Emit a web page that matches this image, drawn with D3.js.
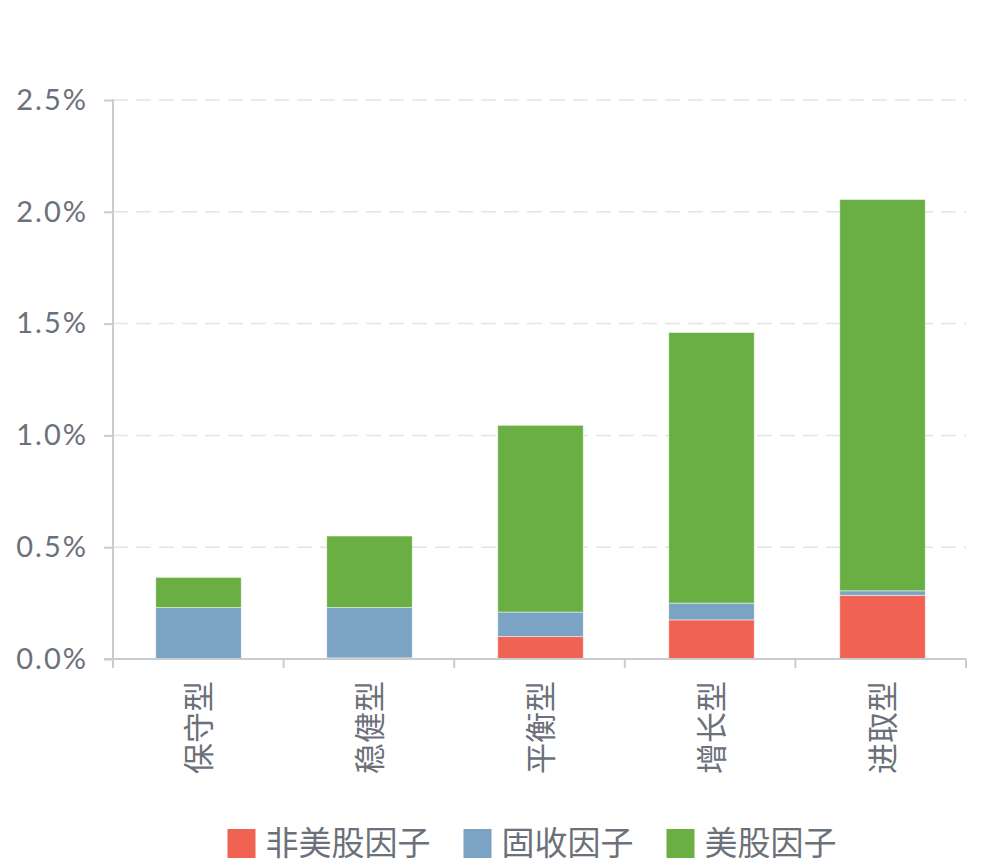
<!DOCTYPE html>
<html>
<head>
<meta charset="utf-8">
<script src="https://cdn.jsdelivr.net/npm/d3@7"></script>
<style>
  body { margin: 0; background: #fff; }
  text { font-family: "Lato", "Noto Sans CJK SC", sans-serif; fill: #6b7079; }
</style>
</head>
<body>
<div id="chart"></div>
<script>
// chart data
var categories = ["保守型", "稳健型", "平衡型", "增长型", "进取型"];
var seriesNames = ["非美股因子", "固收因子", "美股因子"];
var nonUsEquity = [0.000, 0.005, 0.100, 0.175, 0.285];
var fixedIncome = [0.230, 0.225, 0.110, 0.075, 0.020];
var usEquity    = [0.135, 0.320, 0.835, 1.210, 1.750];
var yTicks = [0, 0.5, 1.0, 1.5, 2.0, 2.5];
var colors = ["#f06352", "#7ba4c4", "#6aaf44"];

var width = 984, height = 867;
var margin = {top: 100, right: 18, bottom: 208, left: 113};

var svg = d3.select("#chart")
  .append("svg")
    .attr("width", width)
    .attr("height", height);

// build rows for the stack
var rows = categories.map(function(c, i) {
  return {cat: c, s0: nonUsEquity[i], s1: fixedIncome[i], s2: usEquity[i]};
});
var stack = d3.stack().keys(["s0", "s1", "s2"]);
var layers = stack(rows);

var x = d3.scaleBand()
  .domain(categories)
  .range([margin.left, width - margin.right + 2])
  .paddingInner(0.5)
  .paddingOuter(0.25);

var xOuter = d3.scaleBand()
  .domain(categories)
  .range([margin.left, width - margin.right]);

var y = d3.scaleLinear()
  .domain([0, 2.5])
  .range([height - margin.bottom, margin.top]);

// dashed gridlines
svg.append("g")
  .selectAll("line")
  .data(yTicks.filter(function(d) { return d > 0; }))
  .enter().append("line")
    .attr("x1", margin.left)
    .attr("x2", width - margin.right)
    .attr("y1", function(d) { return y(d); })
    .attr("y2", function(d) { return y(d); })
    .attr("stroke", "#e4e4e4")
    .attr("stroke-width", 1.5)
    .attr("stroke-dasharray", "15,8");

// bars
svg.append("g")
  .selectAll("g")
  .data(layers)
  .enter().append("g")
    .attr("fill", function(d, i) { return colors[i]; })
  .selectAll("rect")
  .data(function(d) { return d; })
  .enter().append("rect")
    .attr("x", function(d) { return x(d.data.cat); })
    .attr("width", x.bandwidth())
    .attr("y", function(d) { return y(d[1]); })
    .attr("height", function(d) { return Math.max(0, y(d[0]) - y(d[1])); })
    .attr("stroke", "#fff")
    .attr("stroke-opacity", 0.6)
    .attr("stroke-width", 0.8);

// y axis
var yAxis = svg.append("g")
  .attr("transform", "translate(" + margin.left + ",0)")
  .call(d3.axisLeft(y)
    .tickValues(yTicks)
    .tickSize(9)
    .tickPadding(16)
    .tickFormat(function(d) { return d3.format(".1f")(d) + "%"; }));
yAxis.select(".domain").remove();
yAxis.selectAll(".tick line").attr("stroke", "#c9cdd0").attr("stroke-width", 2);
yAxis.selectAll(".tick text")
  .style("font-size", "29px")
  .style("letter-spacing", "2px")
  .attr("fill", "#6b7079");
yAxis.append("line")
  .attr("x1", 0).attr("x2", 0)
  .attr("y1", margin.top - 1)
  .attr("y2", height - margin.bottom + 9)
  .attr("stroke", "#c9cdd0")
  .attr("stroke-width", 2);

// x axis
var xAxis = svg.append("g")
  .attr("transform", "translate(0," + (height - margin.bottom) + ")");
xAxis.append("line")
  .attr("x1", margin.left - 9)
  .attr("x2", width - margin.right)
  .attr("stroke", "#c9cdd0")
  .attr("stroke-width", 2);
var boundaries = categories.map(function(c) { return xOuter(c); })
  .concat([width - margin.right]);
xAxis.selectAll("line.tk")
  .data(boundaries)
  .enter().append("line")
    .attr("class", "tk")
    .attr("x1", function(d) { return d; })
    .attr("x2", function(d) { return d; })
    .attr("y1", 0)
    .attr("y2", 9)
    .attr("stroke", "#c9cdd0")
    .attr("stroke-width", 2);
xAxis.selectAll("text")
  .data(categories)
  .enter().append("text")
    .attr("transform", function(d) {
      return "translate(" + (x(d) + x.bandwidth() / 2) + ",22) rotate(-90)";
    })
    .attr("text-anchor", "end")
    .attr("dy", "0.36em")
    .style("font-size", "31px")
    .text(function(d) { return d; });

// legend
var legend = svg.append("g").attr("transform", "translate(0,843)");
var items = legend.selectAll("g")
  .data(seriesNames)
  .enter().append("g");
items.append("rect")
  .attr("y", -14)
  .attr("width", 28)
  .attr("height", 29)
  .attr("fill", function(d, i) { return colors[i]; });
items.append("text")
  .attr("x", 38)
  .attr("dy", "0.36em")
  .style("font-size", "33px")
  .text(function(d) { return d; });
var offs = [], pos = 0;
items.each(function() {
  offs.push(pos);
  pos += 38 + d3.select(this).select("text").node().getComputedTextLength() + 33;
});
var total = pos - 33;
var start = 532 - total / 2;
items.attr("transform", function(d, i) { return "translate(" + (start + offs[i]) + ",0)"; });
</script>
</body>
</html>
